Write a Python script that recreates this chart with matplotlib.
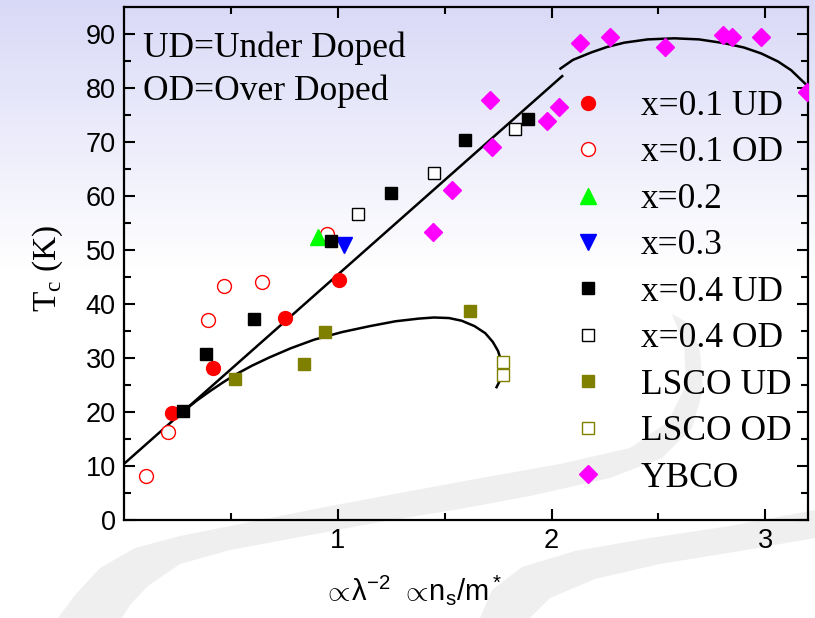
import numpy as np
import matplotlib.pyplot as plt
from matplotlib.patches import Polygon

# values
x01_ud_x = [0.224, 0.416, 0.752, 1.005]
x01_ud_y = [19.8, 28.1, 37.5, 44.5]
x01_od_x = [0.103, 0.206, 0.393, 0.467, 0.645, 0.949]
x01_od_y = [8.1, 16.3, 37.0, 43.3, 44.0, 53.0]
x02_x = [0.907]
x02_y = [52.5]
x03_x = [1.028]
x03_y = [51.0]
x04_ud_x = [0.276, 0.383, 0.607, 0.967, 1.248, 1.595, 1.888]
x04_ud_y = [20.1, 30.7, 37.2, 51.6, 60.6, 70.4, 74.3]
x04_od_x = [1.093, 1.449, 1.827]
x04_od_y = [56.7, 64.2, 72.4]
lsco_ud_x = [0.519, 0.841, 0.939, 1.621]
lsco_ud_y = [26.1, 28.9, 34.8, 38.7]
lsco_od_x = [1.771, 1.771]
lsco_od_y = [29.2, 26.8]
ybco_x = [1.444, 1.533, 1.710, 1.720, 1.981, 2.037, 2.131, 2.276, 2.533, 2.804, 2.846, 2.981, 3.196]
ybco_y = [53.4, 61.2, 77.8, 69.1, 73.8, 76.5, 88.4, 89.5, 87.6, 89.8, 89.5, 89.5, 79.3]

# guide curves
line_x = [0.0, 2.05]
line_y = [10.4, 82.2]
top_x = [2.042, 2.10, 2.187, 2.26, 2.341, 2.45, 2.575, 2.69, 2.808, 2.90, 2.981, 3.06, 3.121, 3.2]
top_y = [83.6, 85.2, 86.6, 87.6, 88.4, 89.0, 89.2, 89.0, 88.3, 87.5, 86.4, 84.9, 83.3, 80.3]
lsco_x = [0.28, 0.34, 0.40, 0.46, 0.52, 0.60, 0.68, 0.78, 0.89, 1.02, 1.15, 1.27, 1.38, 1.45,
          1.52, 1.58, 1.64, 1.69, 1.725, 1.75, 1.763, 1.768, 1.762, 1.743]
lsco_y = [20.2, 22.1, 23.8, 25.4, 26.9, 28.6, 30.1, 31.8, 33.4, 34.8, 35.9, 36.8, 37.3, 37.5,
          37.4, 36.9, 35.9, 34.6, 33.0, 31.3, 29.6, 27.8, 26.1, 24.6]

W, H = 815, 618
fig = plt.figure(figsize=(8.15, 6.18), dpi=100)

plt.rcParams['mathtext.fontset'] = 'custom'
plt.rcParams['mathtext.rm'] = 'Liberation Serif'
plt.rcParams['mathtext.sf'] = 'Liberation Sans'
plt.rcParams['mathtext.fallback'] = 'cm'

# slide background: lavender gradient plus grey swooshes
bg = fig.add_axes([0, 0, 1, 1])
t = np.clip(np.arange(H) / 270.0, 0, 1)[:, None, None]
top_col = np.array([0.85, 0.85, 0.97])
img = top_col * (1 - t) + np.ones(3) * t
img = np.repeat(img, 2, axis=1)
bg.imshow(img, extent=[0, W, H, 0], aspect='auto', zorder=0)
band1 = [(58, 618), (75, 595), (100, 568), (135, 548), (180, 536), (240, 524), (320, 508),
         (400, 493), (470, 480), (560, 464), (630, 448), (668, 422), (686, 385), (684, 345),
         (672, 314), (690, 324), (700, 350), (703, 390), (692, 428), (662, 458), (610, 478),
         (530, 496), (460, 509), (380, 522), (300, 537), (230, 550), (180, 564), (148, 586),
         (130, 605), (122, 618)]
band2 = [(480, 618), (492, 590), (522, 567), (575, 551), (650, 538), (730, 526), (815, 510),
         (815, 538), (740, 551), (660, 564), (595, 579), (550, 598), (530, 618)]
for b in (band1, band2):
    bg.add_patch(Polygon(b, closed=True, facecolor='#e9e9e9', edgecolor='none', alpha=0.7, zorder=1))
bg.set_xlim(0, W)
bg.set_ylim(H, 0)
bg.axis('off')

ax = fig.add_axes([124 / W, 1 - 520 / H, 684 / W, 513 / H])
ax.patch.set_visible(False)

ms = 10
ax.plot(line_x, line_y, color='black', lw=1.8, zorder=2)
ax.plot(top_x, top_y, color='black', lw=1.8, zorder=2)
ax.plot(lsco_x, lsco_y, color='black', lw=1.8, zorder=2)

ax.plot(x01_ud_x, x01_ud_y, 'o', color='red', ms=ms, mec='red', ls='none', label='x=0.1 UD', zorder=3)
ax.plot(x01_od_x, x01_od_y, 'o', mfc='white', mec='red', mew=1.0, ms=ms, ls='none', label='x=0.1 OD', zorder=3)
ax.plot(x02_x, x02_y, '^', color='#00ff00', ms=11, ls='none', label='x=0.2', zorder=3)
ax.plot(x03_x, x03_y, 'v', color='blue', ms=11, ls='none', label='x=0.3', zorder=3)
ax.plot(x04_ud_x, x04_ud_y, 's', color='black', ms=9, ls='none', label='x=0.4 UD', zorder=3)
ax.plot(x04_od_x, x04_od_y, 's', mfc='white', mec='black', mew=1.0, ms=9, ls='none', label='x=0.4 OD', zorder=3)
ax.plot(lsco_ud_x, lsco_ud_y, 's', color='#808000', ms=9, ls='none', label='LSCO UD', zorder=3)
ax.plot(lsco_od_x, lsco_od_y, 's', mfc='white', mec='#808000', mew=1.0, ms=8, ls='none', label='LSCO OD', zorder=3)
ax.plot(ybco_x, ybco_y, 'D', color='magenta', ms=9, ls='none', label='YBCO', zorder=3)

ax.set_xlim(0, 3.2)
ax.set_ylim(0, 95)
ax.set_xticks([1, 2, 3])
ax.set_xticks([0.5, 1.5, 2.5], minor=True)
ax.set_yticks(range(0, 100, 10))
ax.set_yticks(range(5, 95, 10), minor=True)
ax.tick_params(which='both', direction='in', top=True, right=True, width=1.5)
ax.tick_params(which='major', length=8, labelsize=19.5, pad=6)
ax.tick_params(which='minor', length=5)
for lab in ax.get_xticklabels() + ax.get_yticklabels():
    lab.set_fontfamily('Liberation Sans')
for s in ax.spines.values():
    s.set_linewidth(1.6)

serif = 'Liberation Serif'
leg = ax.legend(loc='upper left', bbox_to_anchor=(570 / W, 1 - 90 / H), bbox_transform=fig.transFigure,
                frameon=False, prop={'family': serif, 'size': 25.5}, handlelength=1.0,
                handletextpad=1.0, labelspacing=0.38, borderpad=0, borderaxespad=0, numpoints=1)

fig.text(143 / W, 1 - 57 / H, 'UD=Under Doped', family=serif, size=25.5, va='baseline')
fig.text(143 / W, 1 - 100 / H, 'OD=Over Doped', family=serif, size=25.5, va='baseline')

fig.text(412 / W, 1 - 590 / H, r'$\mathsf{\propto\!\lambda^{-2}\ \propto\!n_s/m^*}$', size=21,
         ha='center', va='center')
fig.text(48 / W, 1 - 268 / H, r'T$_\mathrm{c}$ (K)', family=serif, size=24, rotation=90,
         ha='center', va='center')

fig.savefig('out.png', dpi=100)
